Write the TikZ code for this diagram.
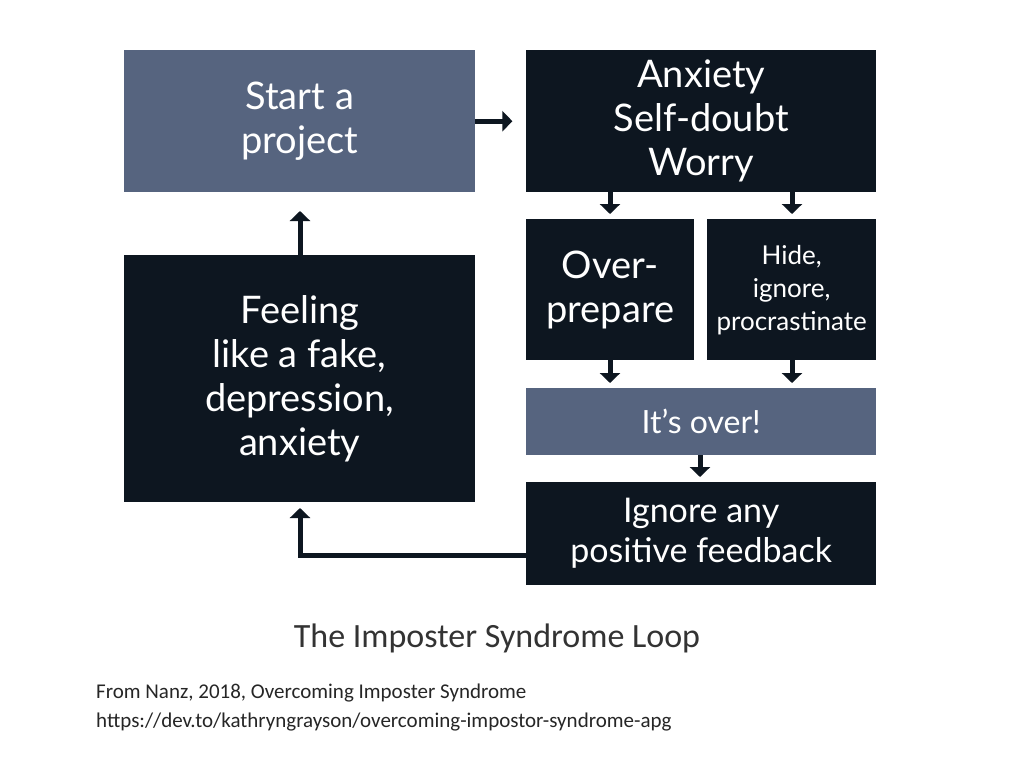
\documentclass[tikz,border=0pt]{standalone}
\usepackage{fontspec}
\setmainfont{Lato}
\newfontfamily\calfont{Carlito}
\usetikzlibrary{arrows.meta}
\definecolor{slate}{HTML}{56647F}
\definecolor{dark}{HTML}{0D1620}
\begin{document}
\begin{tikzpicture}[x=1pt,y=-1pt,
 bx/.style={draw=none,inner sep=0pt,anchor=north west,text=white,align=center,font=\fontsize{38}{44}\selectfont},
 ar/.style={line width=5pt,-{Triangle[length=10pt,width=20pt]},dark}]
\useasboundingbox (0,0) rectangle (1024,768);
\fill[white] (0,0) rectangle (1024,768);
\node[bx,fill=slate,minimum width=351,minimum height=142] (s) at (124,50) {Start a\\project};
\node[bx,fill=dark,minimum width=350,minimum height=142] (a) at (526,50) {Anxiety\\Self-doubt\\Worry};
\node[bx,fill=dark,minimum width=168,minimum height=141] (o) at (526,219) {Over-\\prepare};
\node[bx,fill=dark,minimum width=169,minimum height=141,font=\fontsize{26}{33}\selectfont] (h) at (707,219) {Hide,\\ignore,\\procrastinate};
\node[bx,fill=slate,minimum width=350,minimum height=67,font=\fontsize{32}{38}\selectfont] (i) at (526,388) {It’s over!};
\node[bx,fill=dark,minimum width=350,minimum height=103,font=\fontsize{34}{40}\selectfont] (g) at (526,482) {Ignore any\\positive feedback};
\node[bx,fill=dark,minimum width=351,minimum height=247] (f) at (124,255) {Feeling\\like a fake,\\depression,\\anxiety};
\draw[ar] (s.east) -- ++(37,0);
\draw[ar] (610,192) -- (610,214);
\draw[ar] (792,192) -- (792,214);
\draw[ar] (610,360) -- (610,383);
\draw[ar] (792,360) -- (792,383);
\draw[ar] (700,455) -- (700,477);
\coordinate (c) at (300,555);
\draw[ar] (g.west |- c) -- (c) -- (300,508);
\draw[ar] (300,255) -- (300,211);
\node[font=\calfont\fontsize{34}{40}\selectfont,text=black!80] (t) at (497,638) {The Imposter Syndrome Loop};
\node[font=\calfont\fontsize{21}{29}\selectfont,align=left,anchor=north west,inner sep=0pt,text=black!85] (src) at (96,684) {From Nanz, 2018, Overcoming Imposter Syndrome\\https://dev.to/kathryngrayson/overcoming-impostor-syndrome-apg};
\end{tikzpicture}
\end{document}
